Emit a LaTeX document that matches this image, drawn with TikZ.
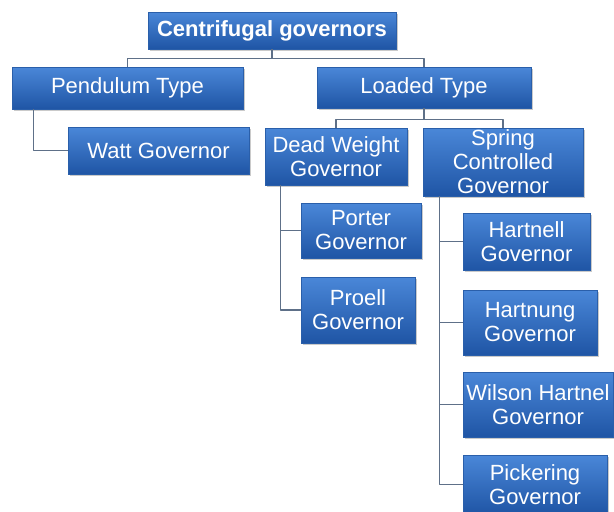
\documentclass[tikz,border=0pt]{standalone}
\usepackage{fontspec}
\setmainfont{Liberation Sans}
\usepackage{xcolor}
\usepackage{tikz}
\usetikzlibrary{shadows}
\definecolor{boxtop}{HTML}{4A87D8}
\definecolor{boxbot}{HTML}{1F55A5}
\definecolor{boxedge}{HTML}{2A5FAA}
\definecolor{wire}{HTML}{5E7088}
\tikzset{
  box/.style={draw=boxedge, line width=0.4pt, top color=boxtop, bottom color=boxbot,
    text=white, align=center, inner sep=1pt, font=\fontsize{22}{24}\selectfont,
    drop shadow={shadow xshift=1.5pt, shadow yshift=-2pt, opacity=0.35, fill=black!60}},
  rootbox/.style={box, font=\fontsize{22}{24}\selectfont\bfseries},
  link/.style={draw=wire, line width=1.3pt, line join=round}
}

\begin{document}
\begin{tikzpicture}[x=1pt, y=-1pt]
  \useasboundingbox (0,0) rectangle (614,512);
  % top levels
  \node[rootbox, minimum width=248pt, minimum height=37pt] (root) at (272,30.5) {Centrifugal governors};
  \node[box, minimum width=231pt, minimum height=42pt] (pend) at (127.5,88) {Pendulum Type};
  \node[box, minimum width=214pt, minimum height=41pt] (load) at (424,87.5) {Loaded Type};
  \node[box, minimum width=181pt, minimum height=47pt] (watt) at (158.5,150.5) {Watt Governor};
  \node[box, minimum width=142pt, minimum height=57pt] (dead) at (336,156.5) {Dead Weight\\Governor};
  \node[box, minimum width=160pt, minimum height=68pt] (spring) at (503,162) {Spring\\Controlled\\Governor};
  % dead weight kinds
  \node[box, minimum width=120pt, minimum height=55pt] (porter) at (361,230.5) {Porter\\Governor};
  \node[box, minimum width=114pt, minimum height=66pt] (proell) at (358,310) {Proell\\Governor};
  % spring controlled kinds
  \node[box, minimum width=127pt, minimum height=57pt] (hartnell) at (526.5,241.5) {Hartnell\\Governor};
  \node[box, minimum width=134pt, minimum height=65pt] (hartnung) at (530,322.5) {Hartnung\\Governor};
  \node[box, minimum width=150pt, minimum height=65pt] (wilson) at (538,404.5) {Wilson Hartnel\\Governor};
  \node[box, minimum width=144pt, minimum height=59pt] (pick) at (535,484.5) {Pickering\\Governor};
  % connectors
  \draw[link] (root.south) -- +(0,9) -| (pend.north);
  \draw[link] (root.south) -- +(0,9) -| (load.north);
  \draw[link] ([xshift=22pt]pend.south west) |- (watt.west);
  \draw[link] (load.south) -- +(0,11) -| (dead.north);
  \draw[link] (load.south) -- +(0,11) -| (spring.north);
  \draw[link] ([xshift=16pt]dead.south west) |- (porter.west);
  \draw[link] ([xshift=16pt]dead.south west) |- (proell.west);
  \draw[link] ([xshift=17pt]spring.south west) |- (hartnell.west);
  \draw[link] ([xshift=17pt]spring.south west) |- (hartnung.west);
  \draw[link] ([xshift=17pt]spring.south west) |- (wilson.west);
  \draw[link] ([xshift=17pt]spring.south west) |- (pick.west);
\end{tikzpicture}
\end{document}
